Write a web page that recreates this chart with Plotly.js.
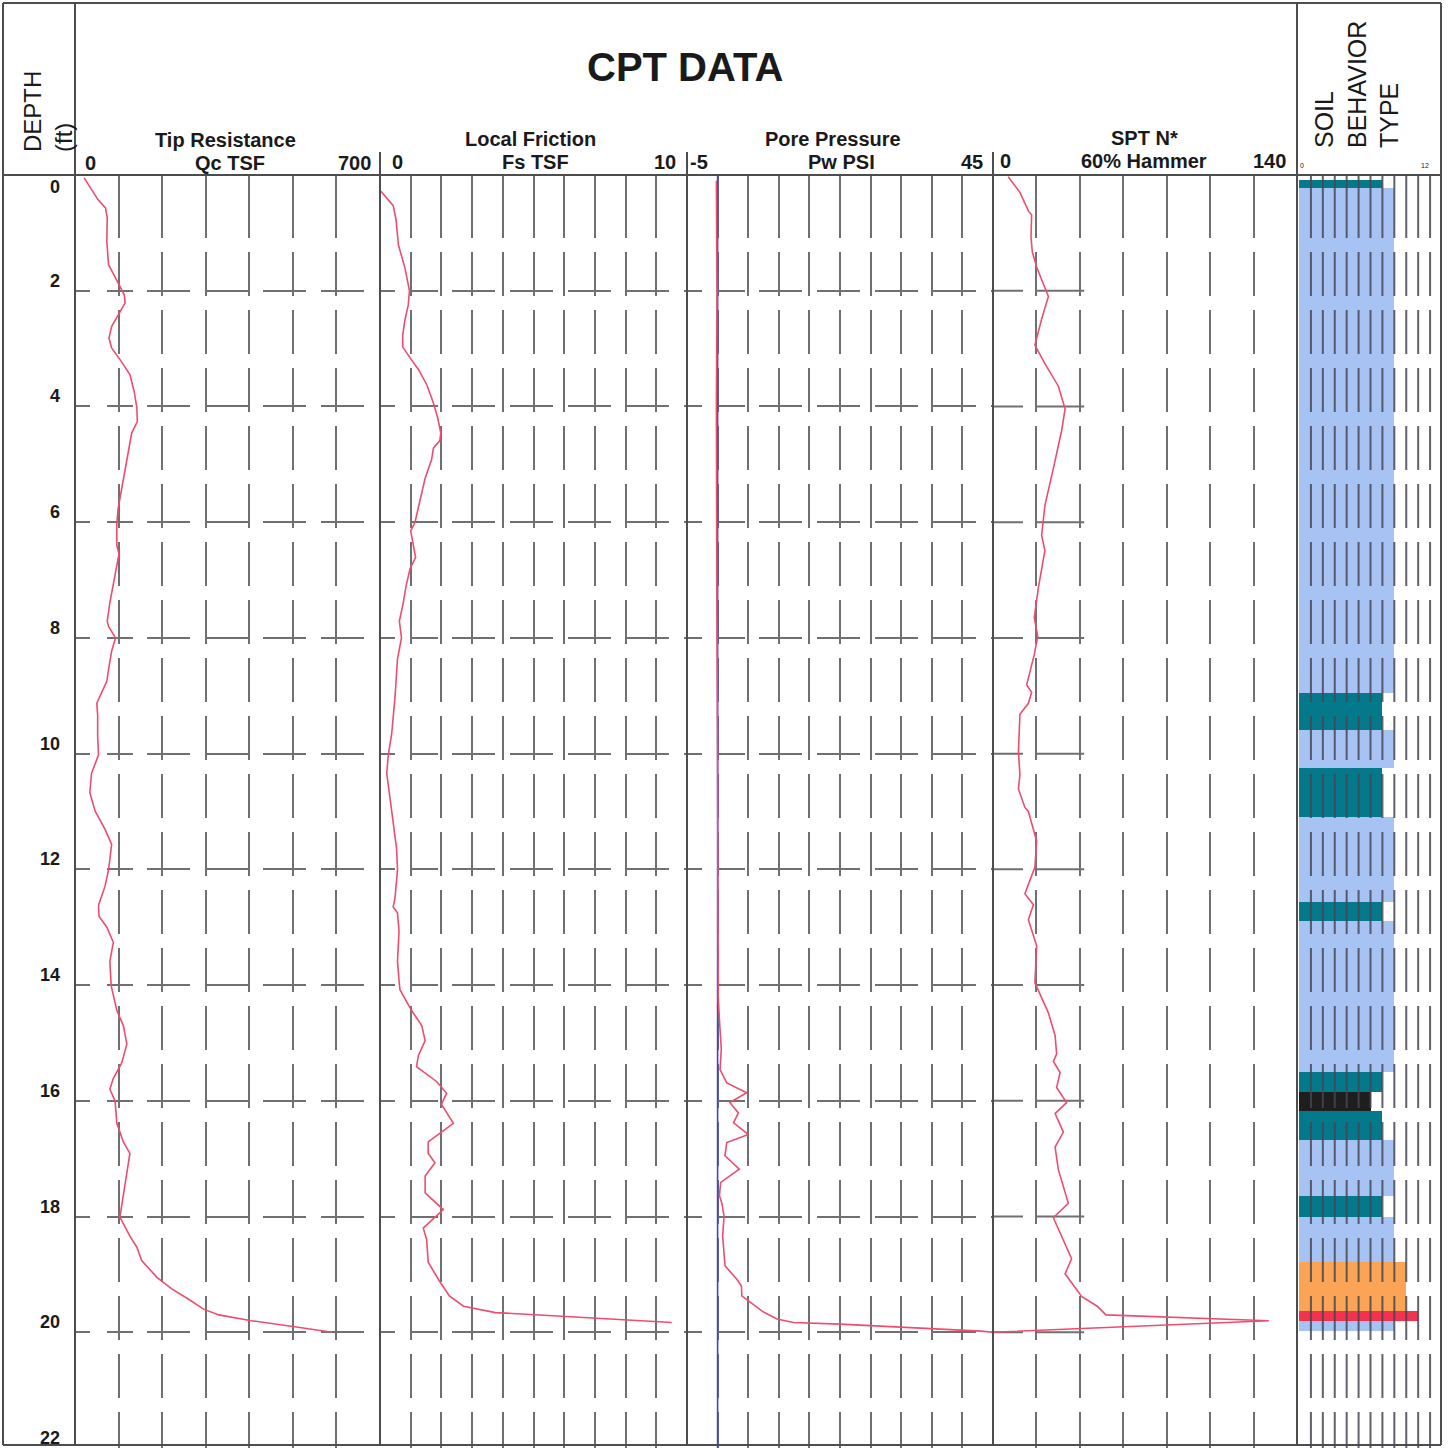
<!DOCTYPE html>
<html><head><meta charset="utf-8">
<script src="https://cdn.plot.ly/plotly-3.0.1.min.js"></script>
<style>html,body{margin:0;padding:0;background:#fff}#chart{width:1448px;height:1448px}</style>
</head><body><div id="chart"></div>
<script>
// ---------------- DATA ----------------
const depthTicks = [0,2,4,6,8,10,12,14,16,18,20,22];
const gridDepths = [2,4,6,8,10,12,14,16,18,20];

const trackTitles = ['Tip Resistance','Local Friction','Pore Pressure','SPT N*'];
const trackUnits  = ['Qc TSF','Fs TSF','Pw PSI','60% Hammer'];
const trackMinLabels = ['0','0','-5','0'];
const trackMaxLabels = ['700','10','45','140'];
const soilMinLabel = '0', soilMaxLabel = '12';

const qcDepth = [0.05,0.25,0.43,0.57,0.74,1.15,1.55,1.85,2.07,2.21,2.42,2.62,2.82,2.99,3.23,3.45,3.75,4.03,4.26,4.46,4.8,5.11,5.45,5.76,6.02,6.4,6.55,6.74,7.06,7.39,7.71,7.8,8.0,8.23,8.5,8.75,9.01,9.13,9.34,9.7,10.02,10.34,10.67,10.99,11.31,11.57,11.83,12.01,12.29,12.62,12.81,13.0,13.26,13.59,14.01,14.44,14.7,15.02,15.35,15.61,15.8,16.0,16.39,16.71,16.91,17.17,17.49,17.82,18.01,18.34,18.53,18.76,19.05,19.25,19.42,19.6,19.7,19.8,19.9,20.0];
const qcValue = [21,38,53,70,74,73,77,98,113,115,99,84,78,84,107,126,136,142,143,130,122,115,106,99,96,96,101,96,88,80,74,77,93,84,78,73,57,50,52,52,54,38,34,46,69,84,80,77,69,54,55,73,88,80,83,96,111,119,107,88,80,92,96,111,126,121,115,107,103,126,142,153,188,222,259,295,330,405,500,590];

const fsDepth = [0.28,0.53,0.76,1.21,1.6,2.0,2.25,2.51,2.77,2.97,3.16,3.36,3.62,3.94,4.2,4.46,4.59,4.72,4.92,5.24,5.63,6.0,6.15,6.41,6.61,6.8,7.1,7.39,7.71,8.0,8.36,9.02,9.66,10.02,10.34,10.99,11.64,12.01,12.49,12.65,12.75,13.07,13.59,13.92,14.08,14.44,14.7,14.96,15.22,15.41,15.67,15.87,16.06,16.39,16.71,16.91,17.07,17.3,17.59,17.88,18.2,18.4,18.79,19.1,19.37,19.55,19.66,19.74,19.83];
const fsValue = [0.03,0.43,0.52,0.6,0.81,0.96,0.92,0.81,0.74,0.74,0.98,1.25,1.52,1.74,1.88,1.98,1.95,1.74,1.68,1.47,1.3,1.14,1.0,1.08,1.16,0.98,0.85,0.76,0.63,0.7,0.57,0.49,0.38,0.27,0.22,0.38,0.54,0.57,0.49,0.43,0.57,0.62,0.57,0.62,0.65,1.03,1.36,1.47,1.25,1.19,1.85,2.17,2.0,2.39,1.57,1.57,1.79,1.47,1.47,2.06,1.41,1.52,1.57,1.92,2.26,2.72,3.76,6.5,9.5];

const pwDepth = [0.1,2.0,4.0,6.0,8.0,10.0,12.0,13.5,14.2,14.6,15.11,15.46,15.69,15.86,16.03,16.21,16.38,16.58,16.72,16.95,17.18,17.41,17.64,17.76,17.99,18.34,18.85,19.08,19.2,19.37,19.48,19.65,19.77,19.83,19.86,19.92,19.98,20.0];
const pwValue = [-0.2,-0.1,-0.2,-0.2,-0.1,0.0,0.0,0.1,0.1,0.3,0.6,0.4,1.5,4.75,2.0,3.4,2.6,5.0,1.5,1.2,3.55,0.5,0.3,0.67,1.05,0.83,1.21,3.1,3.9,3.95,5.3,7.5,9.7,12.4,20.0,32.0,43.0,45.0];

const pwRefDepth = [0,22];
const pwRefValue = [0,0];

const nDepth = [0.03,0.3,0.62,0.69,1.07,1.33,1.59,1.85,2.1,2.49,2.94,3.26,3.65,4.04,4.42,5.07,5.71,6.23,6.49,7.13,7.65,7.97,8.29,8.81,8.94,9.13,9.32,9.97,10.36,10.61,10.93,11.0,11.51,11.96,12.42,12.61,12.87,13.32,13.96,14.48,14.87,15.19,15.32,15.51,15.77,16.03,16.22,16.54,16.8,17.19,17.77,18.02,18.41,18.73,18.99,19.38,19.55,19.7,19.8,20.0];
const nValue = [7,12.4,16.3,17.8,17.5,18.1,20.1,23,25.5,22.4,19.3,23.9,30.1,33.2,31.6,27.8,23.9,22.4,23.9,20.9,19.0,20.6,19.0,15.5,17.8,16.3,12.4,11.7,12.4,11.7,14.7,16.3,20.1,19.3,14.7,18.6,16.3,20.1,19.3,25.5,28.6,29.3,27.8,30.9,29.3,33.9,28.6,32.4,28.6,30.1,34.7,27.8,32.4,36.2,33.2,40.8,48,52,127,0];

const sbtTop    = [0.08,0.22,8.96,9.60,10.24,11.09,12.57,12.90,15.51,15.85,16.18,16.67,17.65,18.00,18.79,19.64,19.81];
const sbtBottom = [0.22,8.96,9.60,10.24,11.09,12.57,12.90,15.51,15.85,16.18,16.67,17.65,18.00,18.79,19.64,19.81,19.98];
const sbtZone   = [7,8,7,8,7,8,7,8,7,6,7,8,7,8,9,10,8];

// ---------------- STYLE ----------------
const W = 1448, H = 1448, TOP = 175;
const px = v => v / W;
const py = v => 1 - v / H;
const FONT = 'Liberation Sans, Arial, sans-serif';
const GRID = '#707070';
const BORDER = '#4d4d4d';
const CURVE = '#ee4d6e';
const zoneColor = {6:'#1e1e1e',7:'#05798c',8:'#a6c3f4',9:'#fba456',10:'#f1334f'};

const vDash = '63px,14px' + ',44px,14px'.repeat(26);
const hDash = '15px,17px,26px,14px' + ',43px,15px'.repeat(26);

function xAx(l, r, range, grid, anchor, showgrid) {
  return {domain:[px(l),px(r)], range:range, anchor:anchor, tickmode:'array', tickvals:grid,
    showticklabels:false, ticks:'', showgrid:showgrid, gridcolor:GRID, gridwidth:2, griddash:vDash,
    zeroline:false, showline:false, fixedrange:true};
}
const yDomain = [0, py(TOP)];
function yAx(anchor, showgrid, extra) {
  return Object.assign({domain:yDomain, range:[22,0], anchor:anchor, tickmode:'array', tickvals:gridDepths,
    showticklabels:false, ticks:'', showgrid:showgrid, gridcolor:GRID, gridwidth:2, griddash:hDash,
    zeroline:false, showline:false, fixedrange:true}, extra||{});
}

const traces = [
  {x:qcValue, y:qcDepth, xaxis:'x', yaxis:'y', mode:'lines', line:{color:CURVE,width:1.6}, hoverinfo:'skip'},
  {x:fsValue, y:fsDepth, xaxis:'x2', yaxis:'y', mode:'lines', line:{color:CURVE,width:1.6}, hoverinfo:'skip'},
  {x:pwRefValue, y:pwRefDepth, xaxis:'x3', yaxis:'y', mode:'lines', line:{color:'#3a45d8',width:1.6}, hoverinfo:'skip'},
  {x:pwValue, y:pwDepth, xaxis:'x3', yaxis:'y', mode:'lines', line:{color:CURVE,width:1.6}, hoverinfo:'skip'},
  {x:nValue, y:nDepth, xaxis:'x4', yaxis:'y2', mode:'lines', line:{color:CURVE,width:1.6}, hoverinfo:'skip'},
  {type:'bar', orientation:'h', xaxis:'x5', yaxis:'y3', base:0,
   x:sbtZone, y:sbtTop.map((t,i)=>(t+sbtBottom[i])/2), width:sbtTop.map((t,i)=>sbtBottom[i]-t),
   marker:{color:sbtZone.map(z=>zoneColor[z]), line:{width:0}}, hoverinfo:'skip'}
];

const ann = [];
const A = (text, x, y, size, bold, opts) => ann.push(Object.assign({
  text: bold ? '<b>'+text+'</b>' : text, xref:'paper', yref:'paper', x:px(x), y:py(y),
  xanchor:'center', yanchor:'middle', showarrow:false,
  font:{family:FONT, size:size, color:'#1a1a1a'}}, opts||{}));

A('CPT DATA', 685, 67, 40, true);
const titleX=[226,530,833,1144], titleY=[140,139,139,138];
const unitX=[230,535,841,1144], unitY=[163,162,162,161];
const minX=[83,390,688,998], maxX=[373,678,985,1288];
trackTitles.forEach((t,i)=>{
  A(t, titleX[i], titleY[i], 20, true);
  A(trackUnits[i], unitX[i], unitY[i], 20, true);
  A(trackMinLabels[i], minX[i], unitY[i], 20, true, {xanchor:'left'});
  A(trackMaxLabels[i], maxX[i], unitY[i], 20, true, {xanchor:'right'});
});
A(soilMinLabel, 1298, 165, 7, false, {xanchor:'left'});
A(soilMaxLabel, 1431, 165, 7, false, {xanchor:'right'});
A('DEPTH<br>(ft)', 48, 112, 24, false, {textangle:-90, align:'left'});
A('SOIL<br>BEHAVIOR<br>TYPE', 1357, 85, 25, false, {textangle:-90, align:'left'});
depthTicks.forEach(d=>{
  ann.push({text:'<b>'+d+'</b>', xref:'paper', yref:'y', x:px(62), y:d, xanchor:'right', yanchor:'middle',
    yshift: d===0 ? -12 : 10, showarrow:false, font:{family:FONT,size:18,color:'#1a1a1a'}});
});

const shapes = [];
const L = (x0,y0,x1,y1,w,c) => shapes.push({type:'line', xref:'paper', yref:'paper',
  x0:px(x0), y0:py(y0), x1:px(x1), y1:py(y1), line:{color:c||BORDER, width:w||2}, layer:'above'});
L(3,3,1441,3); L(3,1445,1441,1445); L(3,3,3,1445); L(1441,3,1441,1445);
L(3,TOP,1441,TOP);
L(75,3,75,1445); L(1297,3,1297,1445);
L(380,152,380,1445); L(687,152,687,1445); L(993,152,993,1445);
// partial depth lines in SPT track
gridDepths.forEach(d=>shapes.push({type:'line', xref:'x4', yref:'y2', x0:0, x1:42, y0:d, y1:d,
  line:{color:GRID, width:2, dash:'30px,12px,60px'}, layer:'below'}));
// soil column grid above bars
for (let k=1;k<=11;k++) shapes.push({type:'line', xref:'x5', yref:'y3', x0:k, x1:k, y0:0, y1:22,
  line:{color:'rgba(70,70,80,0.85)', width:2, dash:vDash}, layer:'above'});

const layout = {
  width:W, height:H, margin:{l:0,r:0,t:0,b:0}, paper_bgcolor:'#fff', plot_bgcolor:'rgba(0,0,0,0)',
  showlegend:false, bargap:0,
  xaxis:  xAx(75,380,[0,700],[100,200,300,400,500,600],'y',true),
  xaxis2: xAx(380,687,[0,10],[1,2,3,4,5,6,7,8,9],'y',true),
  xaxis3: xAx(687,993,[-5,45],[0,5,10,15,20,25,30,35,40],'y',true),
  xaxis4: xAx(993,1297,[0,140],[20,40,60,80,100,120],'y2',true),
  xaxis5: xAx(1299,1442,[0,12],[],'y3',false),
  yaxis:  yAx('x', true),
  yaxis2: yAx('x4', false, {matches:'y'}),
  yaxis3: yAx('x5', false, {matches:'y'}),
  annotations: ann, shapes: shapes
};
Plotly.newPlot('chart', traces, layout, {staticPlot:true, displayModeBar:false});
</script></body></html>
